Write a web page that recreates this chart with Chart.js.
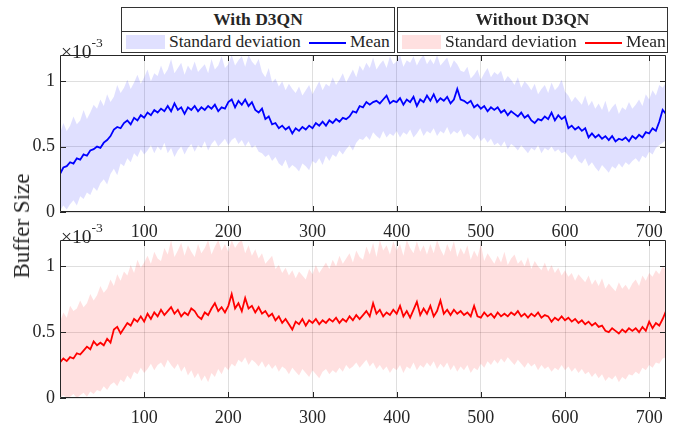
<!DOCTYPE html>
<html>
<head>
<meta charset="utf-8">
<script src="https://cdn.jsdelivr.net/npm/chart.js@4.4.1/dist/chart.umd.min.js"></script>
<style>
  body { margin: 0; background: #fff; }
  #wrap { position: relative; width: 685px; height: 425px; font-family: 'Liberation Serif', 'Times New Roman', serif; color: #262626; }
  #wrap canvas { position: absolute; left: 0; top: 0; }
  .box { position: absolute; top: 7px; height: 46px; border: 1px solid #333; box-sizing: border-box; background: #fff; }
  .box .title { position: absolute; left: 0; right: 0; top: 0; height: 23px; border-bottom: 1px solid #333; text-align: center; font-weight: bold; font-size: 17.5px; line-height: 23px; }
  .box .swatch { position: absolute; top: 27px; left: 4px; width: 39px; height: 14px; }
  .box .txt { position: absolute; top: 25px; font-size: 17.5px; line-height: 17.5px; white-space: nowrap; }
  .box .line { position: absolute; top: 34px; left: 187px; width: 37px; height: 2px; }
  .expo { position: absolute; left: 61px; font-size: 19.5px; line-height: 19.5px; white-space: nowrap; }
  .expo sup { font-size: 13.5px; position: relative; top: -3px; }
  #ylab { position: absolute; left: 22px; top: 226px; font-size: 23px; white-space: nowrap; transform: translate(-50%, -50%) rotate(-90deg); }
</style>
</head>
<body>
<div id="wrap">
  <canvas id="topChart" width="685" height="425"></canvas>
  <canvas id="bottomChart" width="685" height="425"></canvas>

  <div class="box" style="left:121px; width:274px;">
    <div class="title">With D3QN</div>
    <div class="swatch" style="background:rgba(0,0,255,0.12)"></div>
    <div class="txt" style="left:47px">Standard deviation</div>
    <div class="line" style="background:#0000ff"></div>
    <div class="txt" style="left:228px">Mean</div>
  </div>
  <div class="box" style="left:397px; width:271px;">
    <div class="title">Without D3QN</div>
    <div class="swatch" style="background:rgba(255,0,0,0.12)"></div>
    <div class="txt" style="left:47px">Standard deviation</div>
    <div class="line" style="background:#ff0000"></div>
    <div class="txt" style="left:228px">Mean</div>
  </div>

  <div class="expo" style="top:36px">×10<sup>-3</sup></div>
  <div class="expo" style="top:221px">×10<sup>-3</sup></div>
  <div id="ylab">Buffer Size</div>
</div>

<script>
// episodes sampled every 4 steps, values in units of 1e-3
const epochs = Array.from({ length: 181 }, (_, i) => i * 4);
const xTicks = [100, 200, 300, 400, 500, 600, 700];
const yTicks = [0, 0.5, 1];

// with D3QN
const withMean = [
  0.29,0.34,0.35,0.38,0.37,0.41,0.40,0.44,0.43,0.47,
  0.48,0.50,0.49,0.53,0.55,0.58,0.63,0.65,0.64,0.68,
  0.70,0.67,0.72,0.70,0.74,0.72,0.76,0.74,0.78,0.76,
  0.79,0.77,0.81,0.77,0.83,0.78,0.80,0.75,0.80,0.78,
  0.81,0.77,0.80,0.78,0.81,0.79,0.82,0.77,0.80,0.79,
  0.84,0.86,0.80,0.85,0.82,0.86,0.81,0.84,0.78,0.76,
  0.79,0.71,0.73,0.67,0.68,0.64,0.66,0.63,0.65,0.60,
  0.64,0.62,0.65,0.63,0.66,0.64,0.68,0.66,0.69,0.66,
  0.70,0.68,0.71,0.69,0.72,0.71,0.73,0.77,0.76,0.81,
  0.80,0.84,0.82,0.84,0.85,0.83,0.86,0.89,0.83,0.85,
  0.84,0.87,0.82,0.86,0.84,0.88,0.81,0.86,0.84,0.89,
  0.85,0.90,0.84,0.87,0.85,0.88,0.83,0.86,0.94,0.86,
  0.85,0.83,0.85,0.80,0.82,0.79,0.81,0.77,0.80,0.78,
  0.80,0.76,0.78,0.74,0.77,0.75,0.73,0.76,0.72,0.74,
  0.70,0.68,0.71,0.70,0.73,0.71,0.76,0.70,0.74,0.71,
  0.73,0.64,0.66,0.63,0.65,0.62,0.64,0.57,0.60,0.57,
  0.59,0.56,0.58,0.55,0.58,0.54,0.56,0.55,0.57,0.54,
  0.58,0.56,0.59,0.57,0.61,0.60,0.64,0.62,0.69,0.78,
  0.75
];
const withUpper = [
  0.60,0.68,0.62,0.66,0.73,0.67,0.70,0.78,0.71,0.76,
  0.82,0.79,0.86,0.81,0.90,0.84,0.88,0.97,0.91,0.95,
  1.01,0.94,0.99,1.05,0.98,1.03,1.09,1.00,1.06,1.04,
  1.12,1.05,1.09,1.17,1.06,1.10,1.14,1.05,1.12,1.08,
  1.15,1.07,1.10,1.13,1.06,1.17,1.09,1.12,1.19,1.10,
  1.13,1.20,1.12,1.16,1.19,1.11,1.20,1.15,1.12,1.17,
  1.07,1.03,1.10,0.99,1.02,0.96,1.00,0.93,0.98,0.94,
  0.91,0.96,0.89,0.93,0.97,0.90,0.95,1.00,0.93,0.98,
  0.96,1.03,0.97,1.01,1.06,0.99,1.04,1.09,1.03,1.12,
  1.08,1.14,1.10,1.18,1.09,1.13,1.16,1.10,1.19,1.13,
  1.15,1.20,1.11,1.16,1.14,1.19,1.12,1.17,1.20,1.13,
  1.17,1.13,1.20,1.12,1.15,1.18,1.10,1.16,1.13,1.08,
  1.07,1.11,1.02,1.05,1.09,1.01,1.06,1.10,1.03,1.07,
  1.05,1.08,1.00,1.04,1.01,0.97,1.03,0.95,1.00,0.97,
  0.93,0.98,0.90,0.94,0.97,0.91,0.99,0.93,0.96,1.01,
  0.92,0.89,0.84,0.88,0.85,0.82,0.89,0.81,0.85,0.79,
  0.83,0.78,0.85,0.76,0.80,0.83,0.75,0.80,0.78,0.84,
  0.79,0.82,0.86,0.81,0.90,0.86,0.93,0.89,0.97,0.95,
  0.99
];
const withLower = [
  0.01,0.05,0.02,0.06,0.09,0.05,0.12,0.10,0.15,0.13,
  0.19,0.16,0.22,0.25,0.21,0.29,0.33,0.28,0.37,0.35,
  0.41,0.38,0.45,0.42,0.48,0.44,0.47,0.51,0.45,0.50,
  0.47,0.53,0.45,0.49,0.42,0.47,0.50,0.44,0.49,0.52,
  0.46,0.51,0.49,0.54,0.47,0.52,0.55,0.50,0.53,0.56,
  0.51,0.55,0.57,0.52,0.55,0.50,0.54,0.49,0.51,0.46,
  0.45,0.42,0.44,0.39,0.42,0.37,0.35,0.40,0.33,0.36,
  0.34,0.31,0.37,0.35,0.32,0.39,0.37,0.41,0.36,0.43,
  0.39,0.44,0.42,0.47,0.44,0.48,0.51,0.47,0.53,0.56,
  0.55,0.58,0.55,0.61,0.58,0.56,0.62,0.57,0.60,0.58,
  0.62,0.57,0.61,0.59,0.63,0.57,0.60,0.64,0.58,0.62,
  0.60,0.64,0.58,0.62,0.60,0.65,0.59,0.62,0.60,0.63,
  0.57,0.60,0.58,0.55,0.59,0.54,0.57,0.53,0.56,0.51,
  0.53,0.50,0.54,0.48,0.52,0.50,0.47,0.51,0.48,0.45,
  0.49,0.47,0.51,0.45,0.49,0.47,0.50,0.46,0.48,0.45,
  0.46,0.43,0.40,0.44,0.39,0.37,0.41,0.35,0.38,0.34,
  0.31,0.36,0.33,0.30,0.35,0.33,0.37,0.34,0.38,0.36,
  0.39,0.41,0.38,0.43,0.41,0.46,0.44,0.49,0.51,0.53,
  0.55
];

// without D3QN
const withoutMean = [
  0.27,0.30,0.28,0.31,0.30,0.34,0.33,0.36,0.39,0.37,
  0.43,0.40,0.42,0.40,0.45,0.42,0.52,0.54,0.49,0.53,
  0.57,0.55,0.60,0.58,0.62,0.58,0.64,0.60,0.65,0.62,
  0.67,0.63,0.66,0.69,0.64,0.67,0.62,0.65,0.63,0.68,
  0.66,0.62,0.60,0.65,0.63,0.68,0.72,0.66,0.69,0.65,
  0.70,0.79,0.68,0.72,0.66,0.76,0.68,0.70,0.65,0.69,
  0.64,0.66,0.62,0.64,0.59,0.62,0.57,0.60,0.56,0.52,
  0.58,0.56,0.60,0.55,0.59,0.57,0.60,0.56,0.59,0.57,
  0.60,0.58,0.61,0.57,0.60,0.58,0.62,0.59,0.63,0.60,
  0.63,0.66,0.62,0.72,0.64,0.67,0.62,0.65,0.63,0.67,
  0.64,0.70,0.62,0.66,0.61,0.67,0.73,0.63,0.68,0.64,
  0.70,0.62,0.66,0.74,0.64,0.67,0.63,0.67,0.64,0.66,
  0.63,0.65,0.62,0.70,0.62,0.61,0.65,0.62,0.64,0.61,
  0.65,0.62,0.64,0.62,0.65,0.63,0.66,0.62,0.64,0.61,
  0.64,0.62,0.65,0.61,0.63,0.62,0.58,0.61,0.59,0.62,
  0.59,0.61,0.58,0.60,0.57,0.59,0.56,0.58,0.55,0.57,
  0.54,0.55,0.51,0.50,0.53,0.51,0.49,0.52,0.50,0.53,
  0.51,0.53,0.50,0.54,0.51,0.58,0.53,0.57,0.55,0.60,
  0.66
];
const withoutUpper = [
  0.58,0.65,0.61,0.70,0.66,0.68,0.74,0.69,0.72,0.79,
  0.74,0.78,0.85,0.80,0.83,0.90,0.85,0.94,0.89,0.96,
  0.93,1.01,0.95,1.05,0.99,1.03,1.08,1.02,1.11,1.06,
  1.04,1.14,1.09,1.20,1.07,1.12,1.18,1.08,1.16,1.11,
  1.07,1.17,1.10,1.14,1.20,1.09,1.15,1.20,1.12,1.17,
  1.11,1.20,1.14,1.18,1.20,1.10,1.16,1.08,1.13,1.06,
  1.10,1.02,1.05,1.08,0.98,1.01,0.95,0.99,0.93,0.97,
  0.91,0.96,0.93,0.90,0.98,0.94,1.01,0.95,0.99,1.03,
  0.98,1.05,1.00,1.08,1.02,1.06,1.10,1.03,1.12,1.07,
  1.05,1.15,1.09,1.18,1.07,1.20,1.12,1.16,1.09,1.19,
  1.12,1.17,1.08,1.20,1.14,1.10,1.19,1.11,1.16,1.09,
  1.17,1.10,1.20,1.13,1.08,1.17,1.11,1.19,1.07,1.14,
  1.09,1.16,1.05,1.12,1.07,1.17,1.04,1.10,1.06,1.02,
  1.08,1.03,1.11,1.01,1.06,1.09,1.02,1.05,1.00,1.07,
  0.98,1.04,1.00,0.97,1.03,0.96,1.01,0.95,0.99,0.93,
  0.97,0.92,0.95,0.89,0.94,0.91,0.88,0.93,0.86,0.90,
  0.85,0.91,0.83,0.87,0.84,0.81,0.88,0.83,0.86,0.82,
  0.87,0.90,0.85,0.93,0.89,0.95,0.92,0.97,0.94,1.00,
  0.97
];
const withoutLower = [
  0.00,0.02,0.00,0.01,0.03,0.00,0.02,0.04,0.01,0.05,
  0.03,0.06,0.05,0.09,0.06,0.10,0.12,0.09,0.14,0.12,
  0.17,0.14,0.20,0.18,0.23,0.19,0.22,0.26,0.21,0.25,
  0.27,0.23,0.29,0.25,0.22,0.26,0.20,0.24,0.17,0.21,
  0.15,0.19,0.13,0.17,0.12,0.19,0.16,0.22,0.18,0.24,
  0.21,0.26,0.24,0.29,0.27,0.31,0.25,0.29,0.27,0.24,
  0.28,0.23,0.26,0.22,0.25,0.20,0.24,0.22,0.18,0.23,
  0.20,0.17,0.22,0.19,0.16,0.21,0.18,0.15,0.20,0.22,
  0.18,0.21,0.19,0.23,0.20,0.25,0.22,0.24,0.27,0.23,
  0.26,0.29,0.24,0.27,0.22,0.25,0.21,0.24,0.19,0.23,
  0.21,0.25,0.19,0.24,0.22,0.27,0.21,0.25,0.23,0.27,
  0.24,0.28,0.22,0.26,0.23,0.27,0.21,0.25,0.20,0.24,
  0.21,0.25,0.19,0.23,0.21,0.26,0.23,0.28,0.25,0.29,
  0.26,0.30,0.27,0.31,0.28,0.25,0.29,0.26,0.23,0.27,
  0.24,0.26,0.21,0.25,0.22,0.24,0.20,0.23,0.21,0.25,
  0.21,0.24,0.20,0.23,0.19,0.22,0.18,0.20,0.16,0.19,
  0.15,0.18,0.13,0.16,0.14,0.17,0.12,0.16,0.14,0.18,
  0.17,0.20,0.18,0.23,0.21,0.25,0.23,0.27,0.26,0.30,
  0.31
];

const fontFamily = "'Liberation Serif', 'Times New Roman', serif";
const axisColor = '#262626';
const gridColor = 'rgba(38, 38, 38, 0.15)';

// box round the plot area plus inward ticks on all four sides
const axesBox = {
  id: 'axesBox',
  afterDatasetsDraw(chart) {
    const { ctx, chartArea: { left, top, right, bottom }, scales: { x, y } } = chart;
    const len = 6;
    ctx.save();
    ctx.strokeStyle = axisColor;
    ctx.lineWidth = 1;
    ctx.beginPath();
    ctx.rect(left + 0.5, top + 0.5, right - left - 1, bottom - top - 1);
    xTicks.forEach(v => {
      const px = Math.round(x.getPixelForValue(v)) + 0.5;
      ctx.moveTo(px, bottom); ctx.lineTo(px, bottom - len);
      ctx.moveTo(px, top); ctx.lineTo(px, top + len);
    });
    yTicks.forEach(v => {
      const py = Math.round(y.getPixelForValue(v)) + 0.5;
      ctx.moveTo(left, py); ctx.lineTo(left + len, py);
      ctx.moveTo(right, py); ctx.lineTo(right - len, py);
    });
    ctx.stroke();
    ctx.restore();
  }
};

function points(values) {
  return epochs.map((x, i) => ({ x: x, y: values[i] }));
}

function drawPanel(id, upper, lower, mean, lineColor, bandColor, padTop, padBottom, xHeight) {
  const ctx = document.getElementById(id).getContext('2d');
  new Chart(ctx, {
    type: 'line',
    data: {
      datasets: [{
        data: points(upper),
        fill: '+1',
        backgroundColor: bandColor,
        borderWidth: 0,
        pointRadius: 0
      },
      {
        data: points(lower),
        fill: false,
        borderWidth: 0,
        pointRadius: 0
      },
      {
        data: points(mean),
        fill: false,
        borderColor: lineColor,
        borderWidth: 1.8,
        pointRadius: 0,
        tension: 0
      }]
    },
    options: {
      responsive: false,
      animation: false,
      devicePixelRatio: 1,
      layout: {
        padding: { top: padTop, bottom: padBottom, left: 0, right: 19 }
      },
      plugins: {
        legend: { display: false },
        tooltip: { enabled: false }
      },
      scales: {
        x: {
          type: 'linear',
          min: 0,
          max: 720,
          afterBuildTicks: s => { s.ticks = xTicks.map(v => ({ value: v })); },
          afterFit: s => { s.height = xHeight; },
          grid: { color: gridColor, drawTicks: false },
          border: { display: false },
          ticks: {
            padding: 9,
            color: axisColor,
            maxRotation: 0,
            autoSkip: false,
            font: { family: fontFamily, size: 18 }
          }
        },
        y: {
          min: 0,
          max: 1.2,
          afterBuildTicks: s => { s.ticks = yTicks.map(v => ({ value: v })); },
          afterFit: s => { s.width = 60; },
          grid: { color: gridColor, drawTicks: false },
          border: { display: false },
          ticks: {
            padding: 5,
            color: axisColor,
            font: { family: fontFamily, size: 18 },
            callback: v => String(v)
          }
        }
      }
    },
    plugins: [axesBox]
  });
}

drawPanel('topChart', withUpper, withLower, withMean, '#0000ff', 'rgba(0, 0, 255, 0.12)', 55, 183, 30);
drawPanel('bottomChart', withoutUpper, withoutLower, withoutMean, '#ff0000', 'rgba(255, 0, 0, 0.12)', 240, 0, 27);
</script>
</body>
</html>
